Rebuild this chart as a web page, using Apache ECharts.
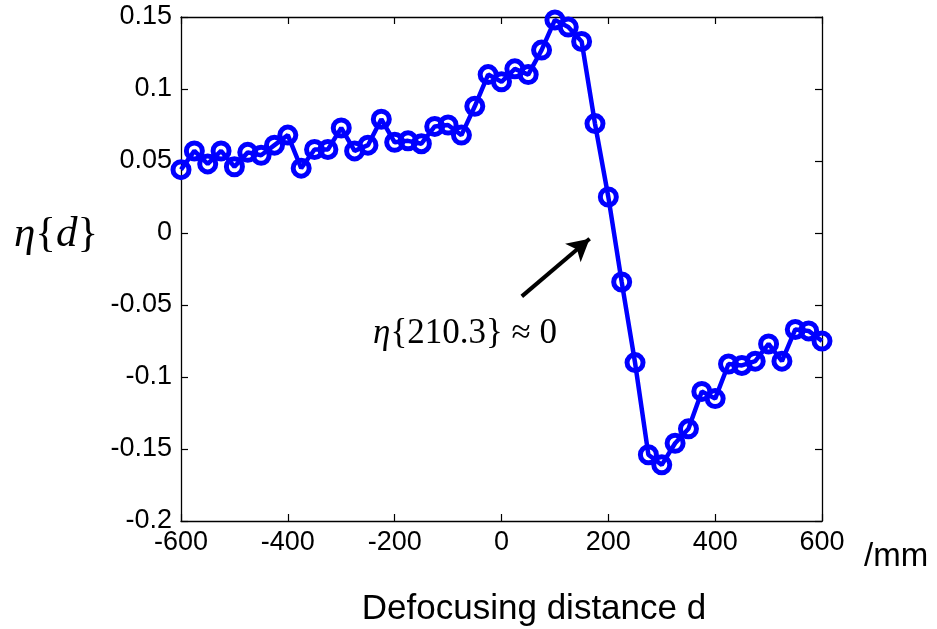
<!DOCTYPE html>
<html>
<head>
<meta charset="utf-8">
<script src="https://cdn.jsdelivr.net/npm/echarts@6/dist/echarts.min.js"></script>
<style>html,body{margin:0;padding:0;background:#fff}#c{width:937px;height:629px}</style>
</head>
<body>
<div id="c"></div>
<script>
var distances = [-600,-575,-550,-525,-500,-475,-450,-425,-400,-375,-350,-325,-300,-275,-250,-225,-200,-175,-150,-125,-100,-75,-50,-25,0,25,50,75,100,125,150,175,200,225,250,275,300,325,350,375,400,425,450,475,500,525,550,575,600];
var etaValues = [0.044,0.057,0.048,0.057,0.046,0.056,0.054,0.061,0.068,0.045,0.058,0.058,0.073,0.057,0.061,0.079,0.063,0.064,0.062,0.074,0.075,0.068,0.088,0.110,0.105,0.114,0.110,0.127,0.148,0.143,0.133,0.076,0.025,-0.034,-0.090,-0.154,-0.161,-0.146,-0.136,-0.110,-0.115,-0.091,-0.092,-0.089,-0.077,-0.089,-0.067,-0.068,-0.075];
var xTicks = [-600,600,200];   // min, max, interval
var yTicks = [-0.2,0.15,0.05]; // min, max, interval
var arrowFrom = [38,-0.044];
var arrowTo = [165,-0.004];
var xLabelText = 'Defocusing distance d';
var unitText = '/mm';
var yLabelText = '{i|η}{{i|d}}';
var annotationText = '{i|η}{210.3} ≈ 0';

var data = distances.map(function(d,i){return [d, etaValues[i]];});
var chart = echarts.init(document.getElementById('c'));
var sans = '"Liberation Sans", Arial, sans-serif';
var serif = '"Liberation Serif", "Times New Roman", serif';
var axisCommon = {
  axisLine:{show:true,onZero:false,lineStyle:{color:'#000',width:1.3}},
  axisTick:{show:true,inside:true,length:7,lineStyle:{color:'#000',width:1.2}},
  splitLine:{show:false}
};
chart.setOption({
  animation:false,
  grid:{left:181,top:17,right:115,bottom:108,containLabel:false},
  xAxis:[
    Object.assign({type:'value',position:'bottom',min:xTicks[0],max:xTicks[1],interval:xTicks[2],
      axisLabel:{color:'#000',fontFamily:sans,fontSize:27,margin:8}}, axisCommon),
    Object.assign({type:'value',position:'top',min:xTicks[0],max:xTicks[1],interval:xTicks[2],
      axisLabel:{show:false}}, axisCommon)
  ],
  yAxis:[
    Object.assign({type:'value',position:'left',min:yTicks[0],max:yTicks[1],interval:yTicks[2],
      axisLabel:{color:'#000',fontFamily:sans,fontSize:27,margin:9,
        formatter:function(v){return String(+v.toFixed(2));}}}, axisCommon),
    Object.assign({type:'value',position:'right',min:yTicks[0],max:yTicks[1],interval:yTicks[2],
      axisLabel:{show:false}}, axisCommon)
  ],
  series:[{
    type:'line',
    data:data,
    xAxisIndex:0,yAxisIndex:0,
    symbol:'circle',
    symbolSize:16,
    lineStyle:{color:'#0000ff',width:4.5},
    itemStyle:{color:'rgba(0,0,0,0)',borderColor:'#0000ff',borderWidth:5},
    markLine:{
      silent:true,
      symbol:['none','arrow'],
      symbolSize:[18,22],
      label:{show:false},
      lineStyle:{color:'#000',width:4,type:'solid'},
      itemStyle:{color:'#000'},
      data:[[{coord:arrowFrom},{coord:arrowTo}]]
    }
  }],
  graphic:[
    {type:'text',x:0,y:0,style:{text:xLabelText,x:534,y:609,textAlign:'center',textVerticalAlign:'middle',font:'35px '+sans,fill:'#000'}},
    {type:'text',x:0,y:0,style:{text:unitText,x:864,y:557,textAlign:'left',textVerticalAlign:'middle',font:'33px '+sans,fill:'#000'}},
    {type:'text',x:0,y:0,style:{text:yLabelText,x:56,y:235,textAlign:'center',textVerticalAlign:'middle',font:'43px '+serif,fill:'#000',
      rich:{i:{fontStyle:'italic',fontFamily:serif,fontSize:43}}}},
    {type:'text',x:0,y:0,style:{text:annotationText,x:465,y:334,textAlign:'center',textVerticalAlign:'middle',font:'35px '+serif,fill:'#000',
      rich:{i:{fontStyle:'italic',fontFamily:serif,fontSize:35}}}}
  ]
});
</script>
</body>
</html>
